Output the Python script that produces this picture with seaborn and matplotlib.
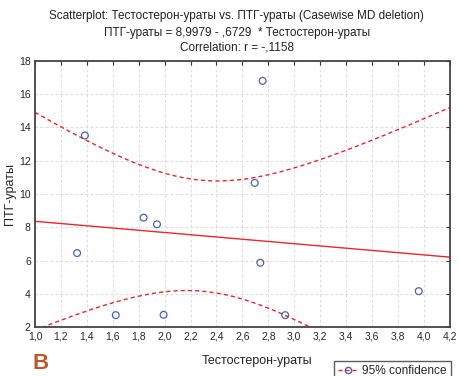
import numpy as np
import pandas as pd
import seaborn as sns
import matplotlib.pyplot as plt
from matplotlib.lines import Line2D
from matplotlib.ticker import FuncFormatter

# data
testosterone = [1.385, 1.325, 1.623, 1.838, 1.941, 1.992, 2.695, 2.738, 2.756, 2.930, 3.960]
ptg = [13.52, 6.45, 2.72, 8.58, 8.18, 2.74, 10.67, 5.87, 16.80, 2.72, 4.16]

x_ticks = [1.0, 1.2, 1.4, 1.6, 1.8, 2.0, 2.2, 2.4, 2.6, 2.8, 3.0, 3.2, 3.4, 3.6, 3.8, 4.0, 4.2]
y_ticks = [2, 4, 6, 8, 10, 12, 14, 16, 18]
t_crit = 2.2622  # t(0.975, df=9)

df = pd.DataFrame({'x': testosterone, 'y': ptg})

# linear fit + 95% confidence band of the mean
b1, b0 = np.polyfit(df['x'], df['y'], 1)
n = len(df)
resid = df['y'] - (b0 + b1 * df['x'])
s = np.sqrt((resid ** 2).sum() / (n - 2))
xbar = df['x'].mean()
sxx = ((df['x'] - xbar) ** 2).sum()
grid_x = np.linspace(x_ticks[0], x_ticks[-1], 200)
fit = b0 + b1 * grid_x
half = t_crit * s * np.sqrt(1 / n + (grid_x - xbar) ** 2 / sxx)
band = pd.DataFrame({'x': grid_x, 'fit': fit, 'lo': fit - half, 'hi': fit + half})

sns.set_style('white')
plt.rcParams['font.family'] = ['Liberation Sans', 'DejaVu Sans']

fig = plt.figure(figsize=(4.6, 3.76), dpi=100)
ax = fig.add_axes([0.076, 0.130, 0.902, 0.708])

red = '#e8262e'
blue = '#4a63b5'

sns.lineplot(data=band, x='x', y='fit', color=red, linewidth=1.0, ax=ax)
sns.lineplot(data=band, x='x', y='lo', color=red, linewidth=1.0, linestyle=(0, (3, 2.2)), ax=ax)
sns.lineplot(data=band, x='x', y='hi', color=red, linewidth=1.0, linestyle=(0, (3, 2.2)), ax=ax)
sns.scatterplot(data=df, x='x', y='y', marker='o', s=24, facecolor='none',
                edgecolor=blue, linewidth=0.9, ax=ax, zorder=5)

ax.set_xlim(x_ticks[0], x_ticks[-1])
ax.set_ylim(y_ticks[0], y_ticks[-1])
ax.set_xticks(x_ticks)
ax.set_yticks(y_ticks)
ax.xaxis.set_major_formatter(FuncFormatter(lambda v, p: f'{v:.1f}'.replace('.', ',')))
ax.tick_params(labelsize=7.5, direction='in', length=3, top=True, right=True, color='#333333', pad=3)
ax.grid(True, color='#dcdcdc', linestyle=(0, (2.5, 2)), linewidth=0.8)
for sp in ax.spines.values():
    sp.set_color('#444444')
    sp.set_linewidth(1.3)

ax.set_xlabel('Тестостерон-ураты', fontsize=9)
ax.set_ylabel('ПТГ-ураты', fontsize=9)
ax.xaxis.set_label_coords(0.535, -0.105)
ax.yaxis.set_label_coords(-0.045, 0.5)

fig.text(0.515, 0.958, 'Scatterplot: Тестостерон-ураты vs. ПТГ-ураты (Casewise MD deletion)',
         ha='center', va='center', fontsize=8.5, color='#222222')
fig.text(0.515, 0.912, 'ПТГ-ураты = 8,9979 - ,6729  * Тестостерон-ураты',
         ha='center', va='center', fontsize=8.5, color='#222222')
fig.text(0.515, 0.875, 'Correlation: r = -,1158',
         ha='center', va='center', fontsize=8.5, color='#222222')

fig.text(0.071, 0.034, 'B', ha='left', va='center', fontsize=16, fontweight='bold', color='#c0562a')

handle = Line2D([], [], color=red, linestyle=(0, (3, 2)), linewidth=1.0,
                marker='o', markerfacecolor='none', markeredgecolor=blue, markersize=4.5)
leg = fig.legend([handle], ['95% confidence'], loc='upper left', bbox_to_anchor=(0.726, 0.041),
                 fontsize=8.6, frameon=True, fancybox=False, handlelength=1.6,
                 handletextpad=0.4, borderpad=0.35, borderaxespad=0)
leg.get_frame().set_edgecolor('#333333')
leg.get_frame().set_linewidth(1.0)

fig.savefig('out.png', dpi=100)
